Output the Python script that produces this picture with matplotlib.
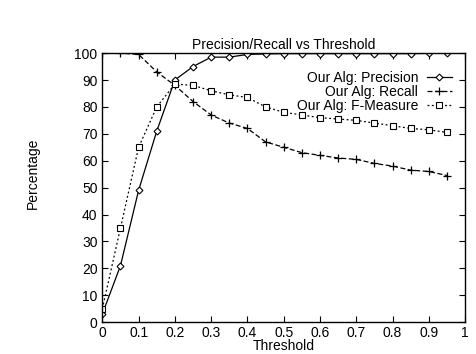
import numpy as np
import matplotlib
matplotlib.use("Agg")
import matplotlib.pyplot as plt

plt.rcParams["font.family"] = ["Liberation Sans", "DejaVu Sans"]

threshold = [0.0, 0.05, 0.1, 0.15, 0.2, 0.25, 0.3, 0.35, 0.4, 0.45,
             0.5, 0.55, 0.6, 0.65, 0.7, 0.75, 0.8, 0.85, 0.9, 0.95]
precision = [3, 21, 49, 71, 90, 95, 98.5, 98.5, 99.5, 99.7,
             99.8, 99.8, 99.8, 99.8, 99.8, 99.8, 99.8, 99.8, 99.9, 99.9]
recall = [100, 100, 99.5, 93, 88, 82, 77, 74, 72, 67,
          65, 63, 62, 61, 60.5, 59, 58, 56.5, 56, 54.5]
fmeasure = [5, 35, 65, 80, 88.5, 88, 86, 84.5, 83.5, 80,
            78, 77, 76, 75.5, 75, 74, 73, 72, 71.5, 70.5]

xticks = [0, 0.1, 0.2, 0.3, 0.4, 0.5, 0.6, 0.7, 0.8, 0.9, 1]
xticklabels = ["0", "0.1", "0.2", "0.3", "0.4", "0.5", "0.6", "0.7", "0.8", "0.9", "1"]
yticks = list(range(0, 101, 10))

fig = plt.figure(figsize=(4.76, 3.54), dpi=100)
ax = fig.add_axes([0.215, 0.09, 0.762, 0.76])

ax.plot(threshold, precision, color="black", lw=0.9, ls="-",
        marker="D", markersize=3.5, mfc="white", mec="black", mew=0.8,
        label="Our Alg: Precision")
ax.plot(threshold, recall, color="black", lw=0.9, ls=(0, (4, 2)),
        marker="+", markersize=6, mew=0.9,
        label="Our Alg: Recall")
ax.plot(threshold, fmeasure, color="black", lw=0.9, ls=(0, (1.5, 2)),
        marker="s", markersize=4.5, mfc="white", mec="black", mew=0.8,
        label="Our Alg: F-Measure")

ax.set_xlim(0, 1)
ax.set_ylim(0, 100)
ax.set_xticks(xticks)
ax.set_xticklabels(xticklabels)
ax.set_yticks(yticks)
ax.tick_params(direction="in", top=True, right=True, labelsize=10, length=4)
ax.tick_params(axis="x", pad=2.5)
for s in ax.spines.values():
    s.set_linewidth(1.0)

ax.set_title("Precision/Recall vs Threshold", fontsize=10, pad=3)
ax.set_xlabel("Threshold", fontsize=10, labelpad=-0.5)
fig.text(0.07, 0.51, "Percentage", rotation=90, ha="center", va="center", fontsize=10)

ax.legend(loc="upper right", markerfirst=False, frameon=False, fontsize=10,
          handlelength=1.8, labelspacing=0.0, borderaxespad=0.3,
          handletextpad=0.6, bbox_to_anchor=(0.99, 0.97))

fig.savefig("out.png", dpi=100)
